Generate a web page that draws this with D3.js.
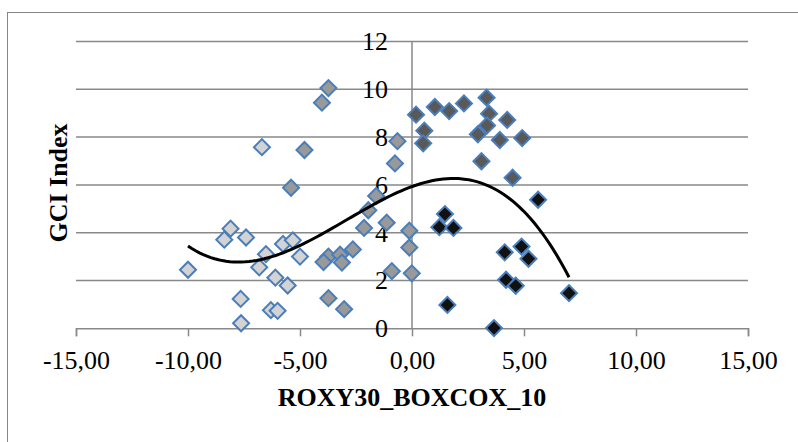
<!DOCTYPE html>
<html>
<head>
<meta charset="utf-8">
<script src="https://cdn.jsdelivr.net/npm/d3@7"></script>
<style>
  body { margin: 0; background: #fff; }
  text { font-family: "Liberation Serif", "Times New Roman", serif; fill: #000; }
</style>
</head>
<body>
<div id="chart"></div>
<script>
// values, [x, y]
let lightPts = [[-10.0, 2.45], [-8.1, 4.17], [-8.38, 3.71], [-7.41, 3.8], [-6.52, 3.1], [-6.82, 2.55],
    [-6.1, 2.12], [-5.55, 1.79], [-7.65, 1.23], [-7.63, 0.21], [-6.3, 0.76], [-6.0, 0.73],
    [-5.76, 3.53], [-5.32, 3.68], [-5.0, 3.0], [-6.7, 7.58]];
let mediumPts = [[-4.02, 9.44], [-3.73, 10.05], [-4.8, 7.46], [-5.4, 5.88], [-0.65, 7.83], [-0.76, 6.9],
    [-1.6, 5.54], [-1.95, 4.94], [-2.14, 4.2], [-1.13, 4.42], [-0.12, 4.08], [-0.12, 3.38],
    [-0.01, 2.3], [-0.9, 2.39], [-2.64, 3.3], [-3.73, 3.0], [-3.95, 2.77], [-3.21, 3.08],
    [-3.13, 2.75], [-3.73, 1.26], [-3.03, 0.8]];
let darkPts = [[0.18, 8.94], [0.55, 8.27], [0.5, 7.74], [1.02, 9.26], [1.66, 9.09], [2.32, 9.41],
    [3.33, 9.65], [3.44, 8.98], [3.35, 8.49], [2.94, 8.12], [4.25, 8.72], [3.92, 7.88],
    [4.92, 7.96], [3.1, 6.99], [4.49, 6.3]];
let blackPts = [[1.47, 4.78], [1.22, 4.23], [1.85, 4.2], [5.63, 5.38], [4.14, 3.18], [4.89, 3.42],
    [5.2, 2.91], [4.2, 2.03], [4.63, 1.78], [1.58, 0.98], [3.66, 0.01], [7.01, 1.47]];

let xTicks = [-15, -10, -5, 0, 5, 10, 15];
let yTicks = [0, 2, 4, 6, 8, 10, 12];
let fills = ["#d3d3d3", "#999999", "#595959", "#111111"];

let svg = d3.select("#chart").append("svg").attr("width", 798).attr("height", 442);

// outer chart border (right/bottom fall outside the picture)
svg.append("rect").attr("x", 7.5).attr("y", 12.5).attr("width", 820).attr("height", 460)
    .attr("fill", "none").attr("stroke", "#868686");

let x = d3.scaleLinear().domain([-15, 15]).range([76, 748]);
let y = d3.scaleLinear().domain([0, 12]).range([328.3, 41.5]);

let loc = d3.formatLocale({decimal: ",", thousands: ".", grouping: [3], currency: ["", ""], minus: "-"});
let fmt = loc.format(".2f");

let g = svg.append("g");

// horizontal gridlines
g.selectAll("line.grid").data(yTicks.filter(d => d > 0)).enter().append("line")
    .attr("class", "grid")
    .attr("x1", x(-15)).attr("x2", x(15))
    .attr("y1", d => y(d)).attr("y2", d => y(d))
    .attr("stroke", "#898989").attr("stroke-width", 1.5);

// x axis
let xAxis = g.append("g").attr("transform", "translate(0," + y(0) + ")")
    .call(d3.axisBottom(x).tickValues(xTicks).tickSize(8).tickFormat(fmt));
xAxis.select(".domain").attr("stroke", "#898989").attr("stroke-width", 1.5);
xAxis.selectAll(".tick line").attr("stroke", "#898989").attr("stroke-width", 1.5);
xAxis.selectAll(".tick text").attr("font-size", 26).attr("font-family", null)
    .attr("y", 41).attr("dy", 0);

// y axis at x = 0
g.append("line").attr("x1", x(0)).attr("x2", x(0)).attr("y1", y(12)).attr("y2", y(0))
    .attr("stroke", "#898989").attr("stroke-width", 1.5);
g.selectAll("text.ylab").data(yTicks).enter().append("text")
    .attr("class", "ylab")
    .attr("x", 388).attr("y", d => y(d)).attr("dy", "0.34em")
    .attr("text-anchor", "end").attr("font-size", 26)
    .text(d => d);

// axis titles
svg.append("text").attr("x", x(0)).attr("y", 406)
    .attr("text-anchor", "middle").attr("font-size", 26).attr("font-weight", "bold")
    .text("ROXY30_BOXCOX_10");
svg.append("text").attr("transform", "translate(67,183) rotate(-90)")
    .attr("text-anchor", "middle").attr("font-size", 26).attr("font-weight", "bold")
    .text("GCI Index");

// markers
let groups = [lightPts, mediumPts, darkPts, blackPts];
let diamond = d3.symbol().type(d3.symbolSquare).size(128);
groups.forEach((pts, i) => {
    g.selectAll("path.s" + i).data(pts).enter().append("path")
        .attr("class", "s" + i)
        .attr("d", diamond)
        .attr("transform", d => "translate(" + x(d[0]) + "," + y(d[1]) + ") rotate(45)")
        .attr("fill", fills[i])
        .attr("stroke", "#4a7ebb").attr("stroke-width", 2);
});

// 3rd order polynomial trendline, least squares over all points
let all = groups.flat();
let n = 4;
let A = [], b = [];
for (let r = 0; r < n; r++) {
    A.push(new Array(n).fill(0));
    b.push(0);
}
all.forEach(p => {
    for (let r = 0; r < n; r++) {
        for (let c = 0; c < n; c++) A[r][c] += Math.pow(p[0], r + c);
        b[r] += p[1] * Math.pow(p[0], r);
    }
});
for (let i = 0; i < n; i++) {
    for (let k = i + 1; k < n; k++) {
        let f = A[k][i] / A[i][i];
        for (let c = i; c < n; c++) A[k][c] -= f * A[i][c];
        b[k] -= f * b[i];
    }
}
let coef = new Array(n).fill(0);
for (let i = n - 1; i >= 0; i--) {
    let s = b[i];
    for (let c = i + 1; c < n; c++) s -= A[i][c] * coef[c];
    coef[i] = s / A[i][i];
}
let poly = v => coef.reduce((a, c, i) => a + c * Math.pow(v, i), 0);
let [xmin, xmax] = d3.extent(all, d => d[0]);
let curve = d3.range(0, 101).map(i => xmin + (xmax - xmin) * i / 100);
svg.append("path").datum(curve)
    .attr("d", d3.line().x(d => x(d)).y(d => y(poly(d))))
    .attr("fill", "none").attr("stroke", "#000").attr("stroke-width", 3);
</script>
</body>
</html>
